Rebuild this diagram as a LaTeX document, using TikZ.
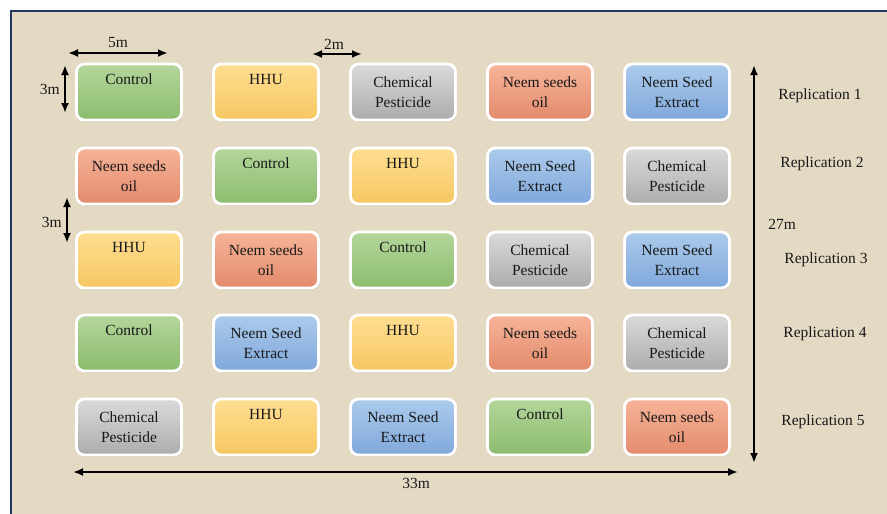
\documentclass[tikz,border=0pt]{standalone}
\usepackage{fontspec}
\setmainfont{Liberation Serif}
\usetikzlibrary{arrows.meta,shadows}

\definecolor{fundo}{RGB}{228,218,196}
\definecolor{moldura}{RGB}{31,56,100}
\definecolor{texto}{RGB}{25,25,25}

\tikzset{
  plot/.style={rounded corners=8pt, draw=white, line width=2.8pt,
    minimum width=105pt, minimum height=56pt, align=center, text=texto,
    font=\fontsize{15.5}{20}\selectfont,
    drop shadow={shadow xshift=1pt, shadow yshift=-1.5pt, opacity=.35}},
  ctrl/.style={plot, top color={rgb,255:red,180;green,214;blue,155},
    bottom color={rgb,255:red,140;green,188;blue,110},
    node contents={Control\\\strut}},
  hhu/.style={plot, top color={rgb,255:red,255;green,222;blue,145},
    bottom color={rgb,255:red,246;green,199;blue,98},
    node contents={HHU\\\strut}},
  chem/.style={plot, top color={rgb,255:red,218;green,218;blue,218},
    bottom color={rgb,255:red,172;green,172;blue,172},
    node contents={Chemical\\Pesticide}},
  oil/.style={plot, top color={rgb,255:red,246;green,180;blue,152},
    bottom color={rgb,255:red,228;green,138;blue,108},
    node contents={Neem seeds\\oil}},
  ext/.style={plot, top color={rgb,255:red,172;green,203;blue,236},
    bottom color={rgb,255:red,128;green,168;blue,219},
    node contents={Neem Seed\\Extract}},
  dim/.style={{Latex[length=10pt,width=8pt]}-{Latex[length=10pt,width=8pt]},
    line width=2.2pt, black},
  rotulo/.style={text=texto, font=\fontsize{15.5}{20}\selectfont}
}

\begin{document}
\begin{tikzpicture}[x=1pt,y=-1pt]
\useasboundingbox (0,0) rectangle (887,514);
\clip (0,0) rectangle (887,514);
\fill[white] (0,0) rectangle (887,514);

% fundo
\draw[moldura, line width=2.5pt, fill=fundo] (11,11) rectangle (892,520);

% replication 1
\foreach \t [count=\c] in {ctrl,hhu,chem,oil,ext}
  \node (p1\c) at ({129+137*(\c-1)},92) [\t];
% replication 2
\foreach \t [count=\c] in {oil,ctrl,hhu,ext,chem}
  \node (p2\c) at ({129+137*(\c-1)},176) [\t];
% replication 3
\foreach \t [count=\c] in {hhu,oil,ctrl,chem,ext}
  \node (p3\c) at ({129+137*(\c-1)},260) [\t];
% replication 4
\foreach \t [count=\c] in {ctrl,ext,hhu,oil,chem}
  \node (p4\c) at ({129+137*(\c-1)},343) [\t];
% replication 5
\foreach \t [count=\c] in {chem,hhu,ext,ctrl,oil}
  \node (p5\c) at ({129+137*(\c-1)},427) [\t];

% rótulos
\node[rotulo] (rep1) at (820,96) {Replication 1};
\node[rotulo] (rep2) at (822,164) {Replication 2};
\node[rotulo] (rep3) at (826,260) {Replication 3};
\node[rotulo] (rep4) at (825,334) {Replication 4};
\node[rotulo] (rep5) at (823,422) {Replication 5};

% cotas
\coordinate (w1) at (68,53);   \coordinate (w2) at (168,53);
\coordinate (g1) at (312,54);  \coordinate (g2) at (362,54);
\coordinate (h1) at (65,65);   \coordinate (h2) at (65,113);
\coordinate (v1) at (67,197);  \coordinate (v2) at (67,243);
\coordinate (t1) at (754,65);  \coordinate (t2) at (754,463);
\coordinate (l1) at (73,472);  \coordinate (l2) at (738,472);

\draw[dim] (w1) -- node[rotulo, above=1pt] (d5) {5m} (w2);
\draw[dim] (g1) -- node[rotulo, above=0pt, xshift=-3pt] (d2) {2m} (g2);
\draw[dim] (h1) -- node[rotulo, left=1pt] (d3a) {3m} (h2);
\draw[dim] (v1) -- node[rotulo, left=1pt, yshift=-2pt] (d3b) {3m} (v2);
\draw[dim] (t1) -- node[rotulo, pos=.4, right=10pt] (d27) {27m} (t2);
\draw[dim] (l1) -- node[rotulo, pos=.516, below=2pt] (d33) {33m} (l2);

\end{tikzpicture}
\end{document}
